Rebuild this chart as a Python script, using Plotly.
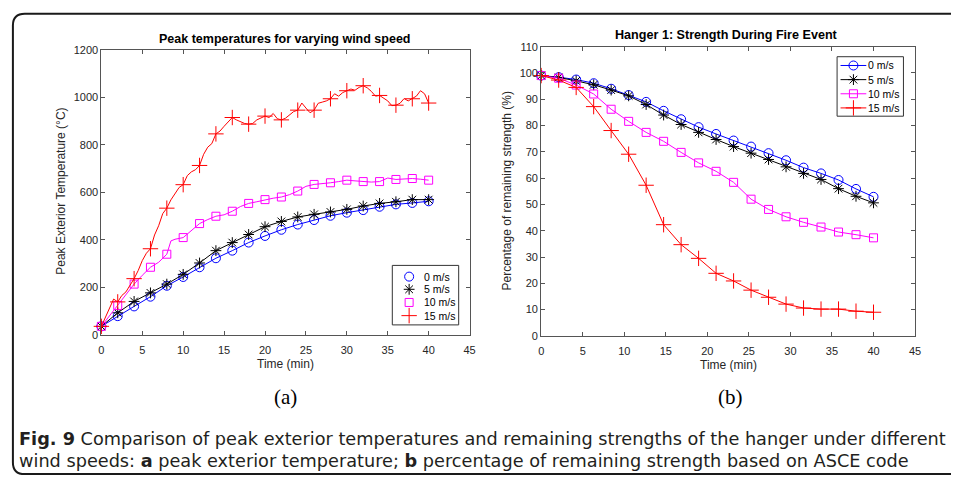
import plotly.graph_objects as go

# ---------------- (a) Peak exterior temperature (°C) ----------------
# Sampled every 2 min (marker positions)
temp_time = [0, 2, 4, 6, 8, 10, 12, 14, 16, 18, 20, 22, 24, 26, 28, 30, 32, 34, 36, 38, 40]
temp_0ms = [35, 78, 119, 160, 206, 243, 284, 322, 354, 388, 416, 442, 464, 483, 501, 514, 525, 539, 549, 555, 562]
temp_5ms = [35, 92, 140, 176, 213, 254, 302, 354, 388, 422, 455, 477, 496, 507, 517, 528, 542, 553, 560, 569, 569]

# Finer record for the 10 m/s case
temp_10ms_time = [0, 1, 2, 3, 4, 5, 6, 7, 8, 8.5, 9, 10, 11, 12, 13, 14, 15, 16, 17, 18, 19, 20,
                  21, 22, 23, 24, 25, 26, 27, 28, 29, 30, 31, 32, 33, 34, 35, 36, 37, 38, 39, 40]
temp_10ms = [35, 80, 123, 170, 213, 250, 284, 305, 339, 395, 402, 409, 440, 468, 485, 499, 505, 520, 540, 553, 560, 569,
             575, 580, 590, 605, 625, 633, 635, 640, 645, 651, 648, 645, 643, 645, 660, 654, 656, 658, 655, 651]

# Finer record for the 15 m/s case
temp_15ms_time = [0, 0.5, 1, 1.5, 2, 2.5, 3, 3.5, 4, 4.5, 5, 5.5, 6, 6.5, 7, 7.5, 8, 8.5, 9, 9.5,
                  10, 10.5, 11, 11.5, 12, 12.5, 13, 13.5, 14, 14.5, 15, 15.5, 16, 16.5, 17, 17.5, 18, 18.5, 19, 19.5,
                  20, 20.5, 21, 21.5, 22, 22.5, 23, 23.5, 24, 24.5, 25, 25.5, 26, 26.5, 27, 27.5, 28, 28.5, 29, 29.5,
                  30, 30.5, 31, 31.5, 32, 32.5, 33, 33.5, 34, 34.5, 35, 35.5, 36, 36.5, 37, 37.5, 38, 38.5, 39, 39.5, 40]
temp_15ms = [35, 75, 110, 150, 138, 165, 180, 206, 236, 270, 312, 343, 362, 420, 459, 510, 533, 568, 597, 620,
             632, 670, 686, 695, 713, 760, 790, 805, 846, 858, 878, 895, 915, 905, 898, 890, 887, 890, 905, 912,
             921, 915, 932, 910, 905, 912, 925, 940, 946, 976, 955, 935, 946, 975, 980, 985, 994, 1015, 1005, 1020,
             1028, 1035, 1030, 1042, 1049, 1040, 1025, 1005, 1008, 995, 985, 965, 967, 975, 995, 985, 994, 1005, 1028, 1015, 976]

# ---------------- (b) Remaining strength (%) ----------------
strength_time = [0, 2.105, 4.211, 6.316, 8.421, 10.526, 12.632, 14.737, 16.842, 18.947,
                 21.053, 23.158, 25.263, 27.368, 29.474, 31.579, 33.684, 35.789, 37.895, 40]
strength_0ms = [99.0, 98.4, 97.5, 96.1, 94.0, 91.6, 89.0, 85.6, 82.4, 79.4,
                76.8, 74.3, 72.0, 69.5, 66.8, 64.0, 61.8, 59.3, 55.9, 52.9]
strength_5ms = [99.0, 98.3, 97.0, 95.5, 93.5, 91.3, 88.0, 84.0, 80.4, 77.4,
                74.7, 72.0, 69.5, 67.1, 64.3, 61.8, 59.5, 56.0, 53.1, 50.6]
strength_10ms = [99.0, 98.0, 95.4, 92.0, 86.2, 81.6, 77.4, 74.0, 69.8, 65.8,
                 62.6, 58.4, 52.0, 48.1, 45.3, 43.2, 41.4, 39.5, 38.5, 37.3]
strength_15ms = [99.0, 97.3, 94.5, 87.2, 78.1, 69.1, 57.3, 42.3, 34.7, 29.5,
                 23.8, 20.9, 17.4, 14.7, 12.1, 10.6, 10.2, 10.2, 9.4, 9.0]

names = ["0 m/s", "5 m/s", "10 m/s", "15 m/s"]
colors = ["#0000ff", "#000000", "#ff00ff", "#ff0000"]
symbols = ["circle-open", "asterisk-open", "square-open", "cross-thin-open"]
sizes = [9, 9, 8, 11]

FONT = "Liberation Sans, Arial, Helvetica, sans-serif"
CAPTION_FONT = "DejaVu Sans, sans-serif"
SERIF = "Liberation Serif, Times New Roman, serif"
TXT = "#262626"
W, H = 957, 484


def px(x):
    return x / W


def py(y):
    return 1 - y / H


def marker(i):
    return dict(symbol=symbols[i], size=sizes[i], color=colors[i],
                line=dict(color=colors[i], width=1))


fig = go.Figure()

# ---- panel (a): dense line plus a marker every 2 min ----
temp_series = [
    (temp_time, temp_0ms),
    (temp_time, temp_5ms),
    (temp_10ms_time, temp_10ms),
    (temp_15ms_time, temp_15ms),
]
for i, (t, v) in enumerate(temp_series):
    fig.add_trace(go.Scatter(x=t, y=v, mode="lines", line=dict(color=colors[i], width=1),
                             xaxis="x", yaxis="y", showlegend=False, cliponaxis=False,
                             name=names[i], hoverinfo="skip"))
    mt = [a for a in t if a % 2 == 0]
    mv = [b for a, b in zip(t, v) if a % 2 == 0]
    fig.add_trace(go.Scatter(x=mt, y=mv, mode="markers", marker=marker(i),
                             xaxis="x", yaxis="y", showlegend=False, cliponaxis=False,
                             name=names[i]))

# ---- panel (b) ----
for i, v in enumerate([strength_0ms, strength_5ms, strength_10ms, strength_15ms]):
    fig.add_trace(go.Scatter(x=strength_time, y=v, mode="lines+markers",
                             line=dict(color=colors[i], width=1), marker=marker(i),
                             name=names[i], xaxis="x2", yaxis="y2", showlegend=False,
                             cliponaxis=False))

# ---- compact MATLAB-style legend boxes (pixel overlay axis x3/y3) ----
legends = [
    # box (left, top, right, bottom), key x, text x, row centres, key line span
    dict(box=(393, 266, 460, 327), key_x=410, text_x=423, rows=[277.5, 290.5, 304, 317.5], line=None),
    dict(box=(842, 52, 909, 113), key_x=858.5, text_x=871, rows=[61, 75.5, 90, 104.5], line=(845.5, 871.5)),
]
annotations = []
for lg in legends:
    l, t, r, b = lg["box"]
    fig.add_shape(type="rect", x0=px(l), x1=px(r), y0=py(b), y1=py(t), xref="paper", yref="paper",
                  line=dict(color="#333333", width=1), fillcolor="white", layer="below")
    for i, yr in enumerate(lg["rows"]):
        if lg["line"]:
            fig.add_shape(type="line", x0=px(lg["line"][0]), x1=px(lg["line"][1]), y0=py(yr), y1=py(yr),
                          xref="paper", yref="paper", line=dict(color=colors[i], width=1))
        fig.add_trace(go.Scatter(x=[lg["key_x"]], y=[yr], mode="markers", marker=marker(i),
                                 xaxis="x3", yaxis="y3", showlegend=False, cliponaxis=False,
                                 hoverinfo="skip", name=names[i]))
        annotations.append(dict(text=names[i], x=px(lg["text_x"]), y=py(yr), xanchor="left",
                                font=dict(family=FONT, size=10.5, color="#000000")))

axis_common = dict(showline=True, mirror="ticks", linecolor="#555555", linewidth=1,
                   ticks="inside", ticklen=4, tickwidth=1, tickcolor="#555555",
                   showgrid=False, zeroline=False,
                   tickfont=dict(family=FONT, size=11, color=TXT))

left_x = [px(99.3), px(471)]
left_y = [py(337), py(45)]
right_x = [px(543.3), px(920.7)]
right_y = [py(338.3), py(41.7)]

fig.update_layout(
    width=W, height=H,
    margin=dict(l=0, r=0, t=0, b=0),
    paper_bgcolor="white", plot_bgcolor="rgba(0,0,0,0)",
    font=dict(family=FONT, color=TXT),
    showlegend=False,
    xaxis=dict(domain=left_x, range=[0, 45], tickvals=[0, 5, 10, 15, 20, 25, 30, 35, 40, 45],
               anchor="y", ticklabelstandoff=5, **axis_common),
    yaxis=dict(domain=left_y, range=[0, 1200], tickvals=[0, 200, 400, 600, 800, 1000, 1200],
               anchor="x", **axis_common),
    xaxis2=dict(domain=right_x, range=[0, 45], tickvals=[0, 5, 10, 15, 20, 25, 30, 35, 40, 45],
                anchor="y2", ticklabelstandoff=5, **axis_common),
    yaxis2=dict(domain=right_y, range=[0, 110], tickvals=list(range(0, 111, 10)),
                anchor="x2", **axis_common),
    xaxis3=dict(domain=[0, 1], range=[0, W], visible=False, anchor="y3", fixedrange=True),
    yaxis3=dict(domain=[0, 1], range=[H, 0], visible=False, anchor="x3", fixedrange=True),
)

annotations += [
    # panel titles
    dict(text="<b>Peak temperatures for varying wind speed</b>", x=px(284), y=py(34),
         font=dict(size=12.5, color="#000000")),
    dict(text="<b>Hanger 1: Strength During Fire Event</b>", x=px(730), y=py(30),
         font=dict(size=12.6, color="#000000")),
    # axis titles
    dict(text="Time (min)", x=px(285), y=py(367), font=dict(size=12, color=TXT)),
    dict(text="Time (min)", x=px(732), y=py(368), font=dict(size=12, color=TXT)),
    dict(text="Peak Exterior Temperature (°C)", x=px(59), y=py(190), textangle=-90,
         font=dict(size=12, color=TXT)),
    dict(text="Percentage of remaining strength (%)", x=px(509), y=py(190), textangle=-90,
         font=dict(size=12, color=TXT)),
    # sub-figure labels
    dict(text="(a)", x=px(285), y=py(401), font=dict(family=SERIF, size=21, color="#000000")),
    dict(text="(b)", x=px(734), y=py(401), font=dict(family=SERIF, size=21, color="#000000")),
    # caption
    dict(text="<b>Fig. 9</b> Comparison of peak exterior temperatures and remaining strengths of the hanger under different",
         x=px(14), y=py(444.5), xanchor="left",
         font=dict(family=CAPTION_FONT, size=17.7, color="#231f20")),
    dict(text="wind speeds: <b>a</b> peak exterior temperature; <b>b</b> percentage of remaining strength based on ASCE code",
         x=px(14), y=py(466.5), xanchor="left",
         font=dict(family=CAPTION_FONT, size=17.7, color="#231f20")),
]
for a in annotations:
    a.setdefault("xanchor", "center")
    a.update(xref="paper", yref="paper", yanchor="middle", showarrow=False)
    fig.add_annotation(**a)

# rounded frame around the figure and caption (open on the right)
r = 12
top, bottom, left = 8, 480, 10
path = (f"M 1,{py(top)} L {px(left + r)},{py(top)} Q {px(left)},{py(top)} {px(left)},{py(top + r)} "
        f"L {px(left)},{py(bottom - r)} Q {px(left)},{py(bottom)} {px(left + r)},{py(bottom)} L 1,{py(bottom)}")
fig.add_shape(type="path", path=path, xref="paper", yref="paper",
              line=dict(color="#1a1a1a", width=2))

# page without the default body margin so the figure fills the window exactly
fig.write_html("out.html",
               post_script="document.body.style.margin='0';document.body.style.overflow='hidden';")
